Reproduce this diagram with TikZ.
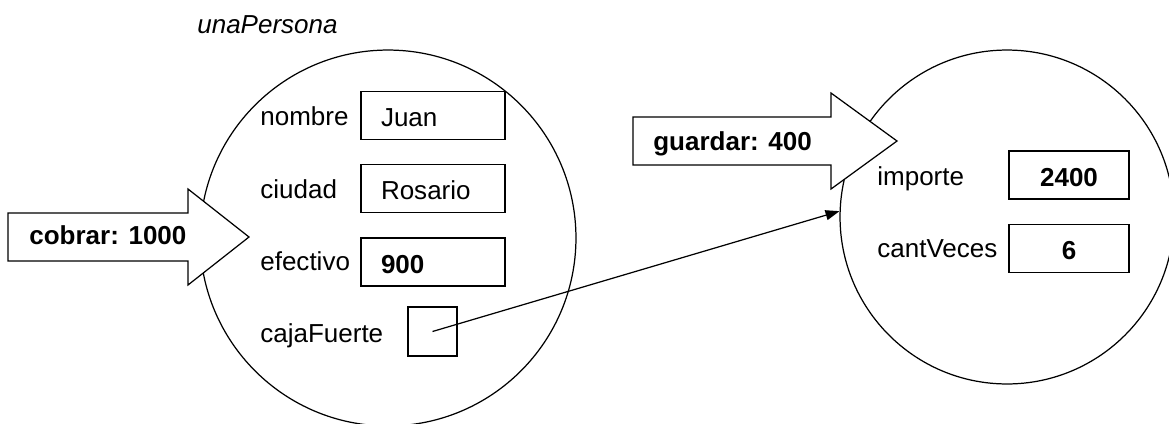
\documentclass[tikz,border=0pt]{standalone}
\usepackage{fontspec}
\setmainfont{Liberation Sans}
\usetikzlibrary{positioning}
\usetikzlibrary{arrows.meta}

\tikzset{
	objeto/.style={draw, circle, line width=0.7pt, inner sep=0pt},
	attr/.style={inner sep=0pt, anchor=base west},
	campo/.style={draw, line width=0.7pt, minimum height=0.96cm, text height=12.6pt, text depth=0pt},
	valor/.style={campo, text width=2.08cm, inner xsep=0.4cm, align=left},
	dato/.style={campo, minimum width=2.4cm, font=\fontsize{14.8pt}{17pt}\selectfont\bfseries},
	mensaje/.style={fill=white, line width=0.7pt, line join=miter},
}

\begin{document}
\begin{tikzpicture}[x=0.02cm, y=-0.02cm, font=\fontsize{14.8pt}{17pt}\selectfont]

	\useasboundingbox (0,0) rectangle (1169,423);

	\node (unaPersona) [objeto, minimum size=7.52cm] at (388,238) {};
	\node (laCaja) [objeto, minimum size=6.68cm] at (1007,217) {};

	\node (titulo) [attr] at (197,33) {\itshape unaPersona};

	\node (nombre) [valor] at (433,115.5) {Juan};
	\node (ciudad) [valor, below=0.48cm of nombre] {Rosario};
	\node (efectivo) [valor, below=0.48cm of ciudad] {\textbf{900}};
	\node (cajaFuerte) [campo, minimum width=0.98cm, minimum height=0.98cm] at (432.5,331.5) {};

	\node (lbl_nombre) [attr] at (260,125) {nombre};
	\node (lbl_ciudad) [attr] at (260,198) {ciudad};
	\node (lbl_efectivo) [attr] at (260,270) {efectivo};
	\node (lbl_caja) [attr] at (260,342) {cajaFuerte};

	\node (importe) [dato] at (1069,175) {2400};
	\node (cantVeces) [dato, below=0.48cm of importe] {6};
	\node (lbl_importe) [attr] at (877,185) {importe};
	\node (lbl_veces) [attr] at (877,257) {cantVeces};

	\path[draw, mensaje] (8,213) -- (188,213) -- (188,189) -- (249,237) -- (188,285) -- (188,261) -- (8,261) -- cycle;
	\node (cobrar) [attr] at (29,244) {\textbf{cobrar: 1000}};

	\path[draw, mensaje] (633,117) -- (831,117) -- (831,93) -- (897,141) -- (831,189) -- (831,165) -- (633,165) -- cycle;
	\node (guardar) [attr] at (653,150) {\textbf{guardar: 400}};

	\path[draw, -{Triangle[length=0.28cm, width=0.2cm]}, line width=0.7pt] (cajaFuerte.center) -- (laCaja.178);

\end{tikzpicture}
\end{document}
